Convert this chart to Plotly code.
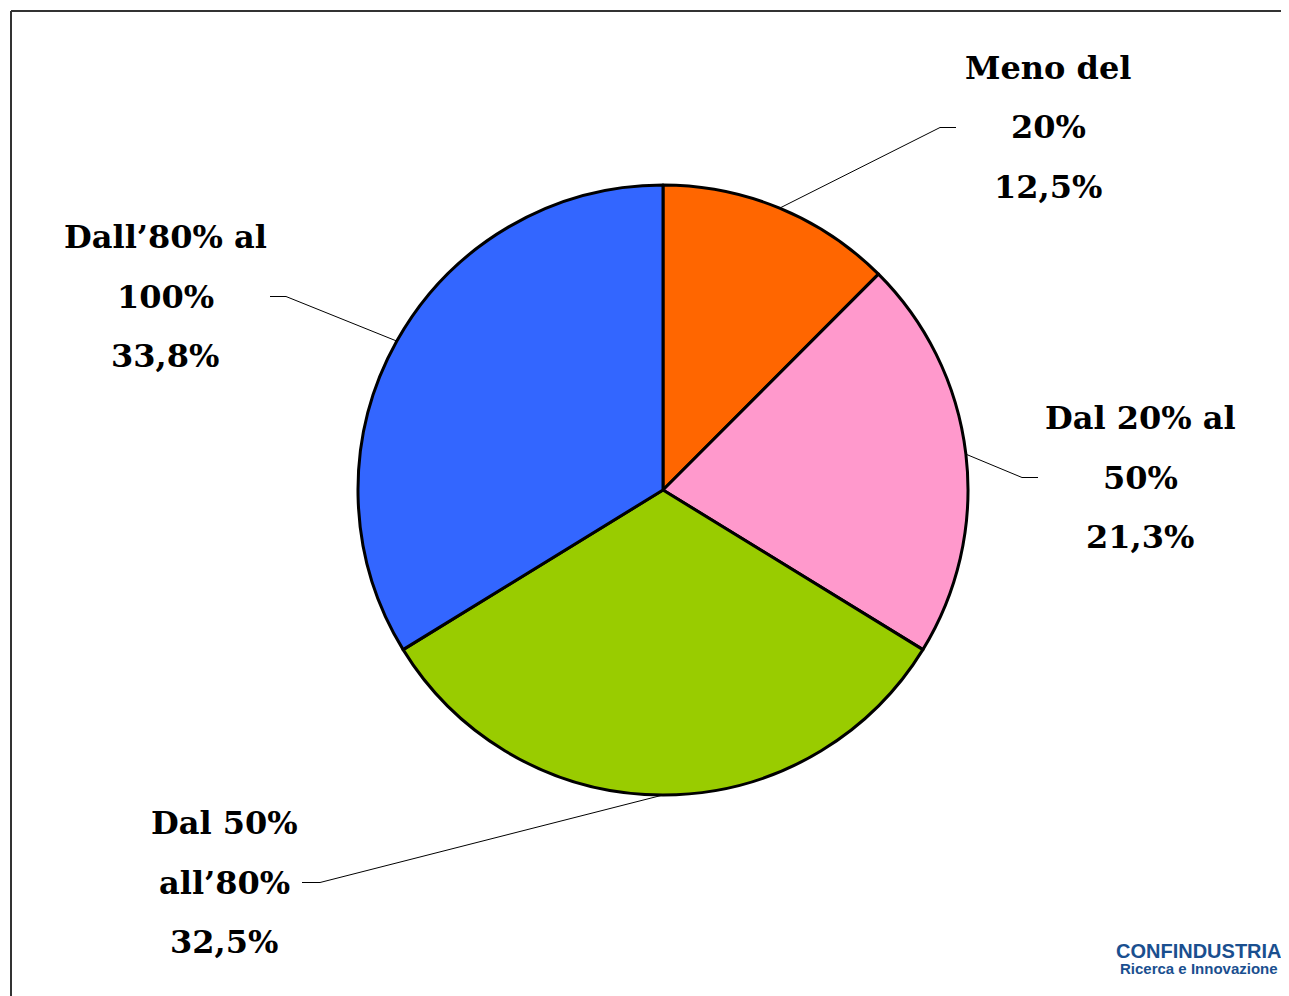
import math
import plotly.graph_objects as go

# ---- data ----
categories = ["Meno del 20%", "Dal 20% al 50%", "Dal 50% all’80%", "Dall’80% al 100%"]
values = [12.5, 21.3, 32.5, 33.8]
label_lines = [
    ["Meno del", "20%", "12,5%"],
    ["Dal 20% al", "50%", "21,3%"],
    ["Dal 50%", "all’80%", "32,5%"],
    ["Dall’80% al", "100%", "33,8%"],
]
colors = ["#FF6600", "#FF99CC", "#99CC00", "#3366FF"]

# ---- layout constants (page pixels) ----
OFF = 8  # default body margin of the html page
W, H = 1289, 996
CX, CY, R = 663, 490, 305
# label block centers (x, y of first line), elbow x, end x of leader
label_pos = [
    (1048, 68, 940, 956),
    (1140, 418, 1022, 1038),
    (224, 823, 320, 302),
    (165, 237, 286, 270),
]
LINE_GAP = 59.5


def px(x):
    return (x - OFF) / W


def py(y):
    return 1 - (y - OFF) / H


fig = go.Figure()
fig.add_trace(go.Pie(
    labels=categories,
    values=values,
    sort=False,
    direction="clockwise",
    rotation=0,
    marker=dict(colors=colors, line=dict(color="black", width=3)),
    textinfo="none",
    hoverinfo="label+percent",
    showlegend=False,
    domain=dict(x=[px(CX - R), px(CX + R)], y=[py(CY + R), py(CY - R)]),
))

annotations = []
shapes = []
total = sum(values)
cum = 0.0
for i, v in enumerate(values):
    mid = (cum + v / 2) / total * 2 * math.pi
    cum += v
    sx = CX + R * math.sin(mid)
    sy = CY - R * math.cos(mid)
    lx, ly, ex, endx = label_pos[i]
    elbow_y = ly + LINE_GAP
    shapes.append(dict(type="line", xref="paper", yref="paper",
                       x0=px(sx), y0=py(sy), x1=px(ex), y1=py(elbow_y),
                       line=dict(color="black", width=1)))
    shapes.append(dict(type="line", xref="paper", yref="paper",
                       x0=px(ex), y0=py(elbow_y), x1=px(endx), y1=py(elbow_y),
                       line=dict(color="black", width=1)))
    for j, t in enumerate(label_lines[i]):
        annotations.append(dict(
            x=px(lx), y=py(ly + j * LINE_GAP), xref="paper", yref="paper",
            text=f"<b>{t}</b>", showarrow=False, xanchor="center", yanchor="middle",
            font=dict(family="DejaVu Serif", size=32, color="black"),
        ))

# frame lines
shapes.append(dict(type="line", xref="paper", yref="paper", x0=px(11), y0=py(11), x1=1.0, y1=py(11),
                   line=dict(color="#333333", width=2)))
shapes.append(dict(type="line", xref="paper", yref="paper", x0=px(11), y0=py(11), x1=px(11), y1=0,
                   line=dict(color="#333333", width=2)))

# logo
annotations.append(dict(x=px(1198.5), y=py(951), xref="paper", yref="paper", showarrow=False,
                        text="<b>CONFINDUSTRIA</b>", xanchor="center", yanchor="middle",
                        font=dict(family="Liberation Sans", size=20, color="#1A4F8F")))
annotations.append(dict(x=px(1198.5), y=py(968), xref="paper", yref="paper", showarrow=False,
                        text="<b>Ricerca e Innovazione</b>", xanchor="center", yanchor="middle",
                        font=dict(family="Liberation Sans", size=15, color="#1A4F8F")))

fig.update_layout(
    width=W, height=H,
    margin=dict(l=0, r=0, t=0, b=0),
    paper_bgcolor="white", plot_bgcolor="white",
    annotations=annotations, shapes=shapes,
)

fig.write_html("out.html")
